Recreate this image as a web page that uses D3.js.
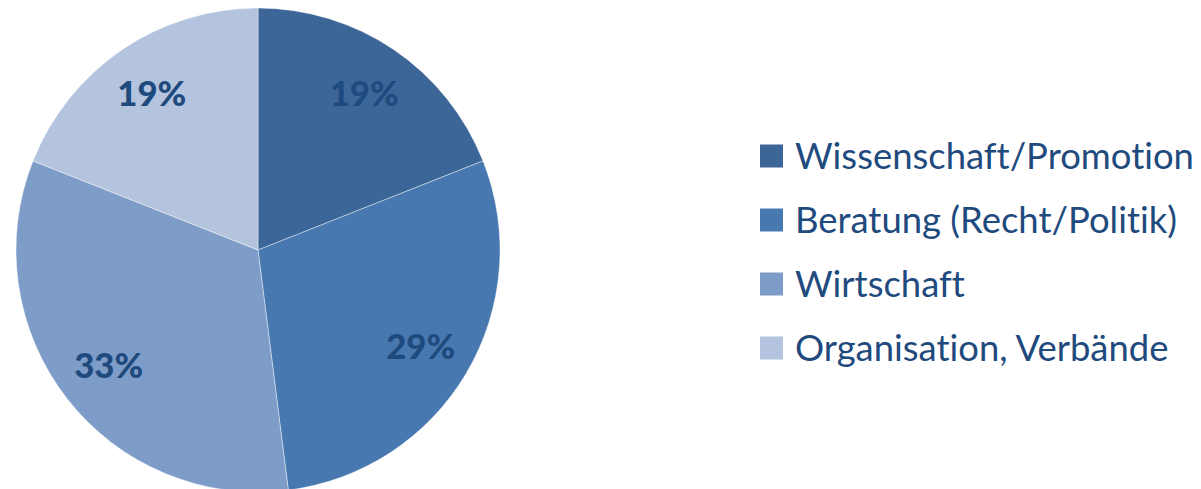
<!DOCTYPE html>
<html>
<head>
<meta charset="utf-8">
<script src="https://cdn.jsdelivr.net/npm/d3@7"></script>
<style>
  html, body { margin: 0; padding: 0; background: #fff; }
  svg { display: block; }
  text { font-variant-ligatures: none; font-feature-settings: "liga" 0; }
</style>
</head>
<body>
<div id="chart"></div>
<script>
const categories = ['Wissenschaft/Promotion', 'Beratung (Recht/Politik)', 'Wirtschaft', 'Organisation, Verbände'];
const values = [19, 29, 33, 19];
const colors = ['#3d6698', '#4878b0', '#7e9cc8', '#b4c3de'];

const WIDTH = 1201;
const HEIGHT = 489;
const CENTER = { x: 258, y: 250 };
const RADIUS = 242;
const LABEL_RADIUS = 189;
const TEXT_COLOR = '#1f4a7e';
const FONT = 'Lato, "Open Sans", sans-serif';

const svg = d3.select('#chart')
	.append('svg')
		.attr('width', WIDTH)
		.attr('height', HEIGHT);

const pie = d3.pie().sort(null).value(d => d)(values);
const arc = d3.arc().innerRadius(0).outerRadius(RADIUS);
const labelArc = d3.arc().innerRadius(LABEL_RADIUS).outerRadius(LABEL_RADIUS);

const g = svg.append('g')
	.attr('transform', `translate(${CENTER.x}, ${CENTER.y})`);

g.selectAll('path')
	.data(pie)
	.enter()
	.append('path')
		.attr('d', arc)
		.attr('fill', (d, i) => colors[i])
		.attr('stroke', '#ffffff')
		.attr('stroke-opacity', 0.5)
		.attr('stroke-width', 0.8);

g.selectAll('text.pct')
	.data(pie)
	.enter()
	.append('text')
		.attr('class', 'pct')
		.attr('transform', d => `translate(${labelArc.centroid(d)})`)
		.attr('text-anchor', 'middle')
		.attr('dy', '0.36em')
		.attr('fill', TEXT_COLOR)
		.attr('font-family', FONT)
		.attr('font-weight', 900)
		.attr('font-size', 38)
		.text(d => d.data + '%');

// legend
const y = d3.scalePoint()
	.domain(categories)
	.range([156, 348]);

const legend = svg.append('g');

legend.selectAll('rect')
	.data(categories)
	.enter()
	.append('rect')
		.attr('x', 760)
		.attr('y', d => y(d) - 11.5)
		.attr('width', 23)
		.attr('height', 23)
		.attr('fill', (d, i) => colors[i]);

const labels = legend.selectAll('text')
	.data(categories)
	.enter()
	.append('text')
		.attr('x', 795)
		.attr('y', d => y(d))
		.attr('dy', '0.36em')
		.attr('fill', TEXT_COLOR)
		.attr('font-family', FONT)
		.attr('font-size', 34)
		.text(d => d);

// fit legend font so the longest entry spans like the reference
const longest = labels.nodes()[0].getComputedTextLength();
labels.attr('font-size', 34 * 399 / longest);

const pcts = g.selectAll('text.pct').nodes();
const pw = pcts[0].getComputedTextLength();
g.selectAll('text.pct').attr('font-size', 38 * 69 / pw);
</script>
</body>
</html>
